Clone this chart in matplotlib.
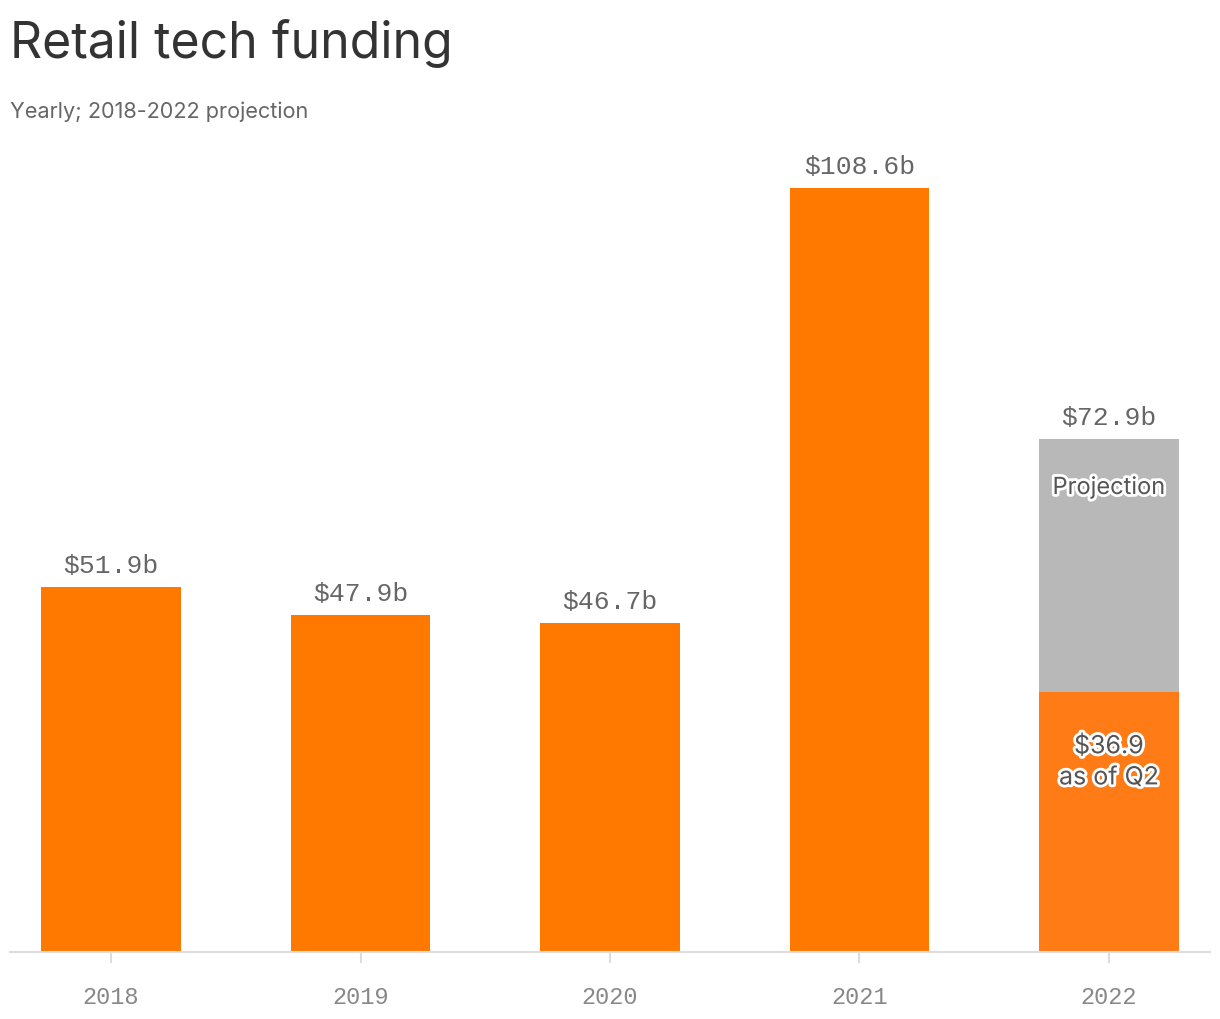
import matplotlib
matplotlib.use("Agg")
import matplotlib.pyplot as plt
import matplotlib.patheffects as pe

years = ["2018", "2019", "2020", "2021", "2022"]
funding = [51.9, 47.9, 46.7, 108.6, 36.9]   # 2022 = actual as of Q2
projection_total = 72.9                     # 2022 full-year projection
value_labels = ["$51.9b", "$47.9b", "$46.7b", "$108.6b", "$72.9b"]

orange = "#ff7900"
orange_2022 = "#ff7b15"
grey = "#b8b8b8"
mono = "Liberation Mono"

fig = plt.figure(figsize=(12.2, 10.2), dpi=100)
ax = fig.add_axes([10 / 1220, 67 / 1020, 1200 / 1220, 802 / 1020])

x = list(range(len(years)))
colors = [orange] * 4 + [orange_2022]
ax.bar(x, funding, width=0.561, color=colors, zorder=2)
ax.bar(x[-1], projection_total - funding[-1], bottom=funding[-1], width=0.561,
       color=grey, zorder=2)

tops = funding[:-1] + [projection_total]
for xi, top, lab in zip(x, tops, value_labels):
    ax.annotate(lab, (xi, top), xytext=(0, 16), textcoords="offset points",
                ha="center", va="center", fontsize=19, color="#666666",
                family=mono)

halo = [pe.withStroke(linewidth=4, foreground="white")]
ax.annotate("Projection", (x[-1], projection_total), xytext=(0, -35),
            textcoords="offset points", ha="center", va="center",
            fontsize=17, color="#555555", family="Inter", path_effects=halo)
ax.annotate("$36.9\nas of Q2", (x[-1], funding[-1]), xytext=(0, -50),
            textcoords="offset points", ha="center", va="center",
            fontsize=18, color="#555555", family="Inter", path_effects=halo,
            linespacing=1.45)

ax.set_xlim(-0.405, 4.405)
ax.set_ylim(0, 114)
ax.set_xticks(x)
ax.set_xticklabels(years, family=mono, fontsize=17, color="#888888")
ax.set_yticks([])
for s in ["top", "right", "left"]:
    ax.spines[s].set_visible(False)
ax.spines["bottom"].set_color("#dddddd")
ax.spines["bottom"].set_linewidth(1.5)
ax.tick_params(axis="x", length=8, width=1.5, color="#dddddd", pad=16)

fig.text(10 / 1220, 1 - 43 / 1020, "Retail tech funding", fontsize=36,
         color="#333333", family="Inter", va="center", ha="left")
fig.text(10 / 1220, 1 - 112 / 1020, "Yearly; 2018-2022 projection", fontsize=15.6,
         color="#666666", family="Inter", va="center", ha="left")

fig.savefig("out.png", dpi=100)
